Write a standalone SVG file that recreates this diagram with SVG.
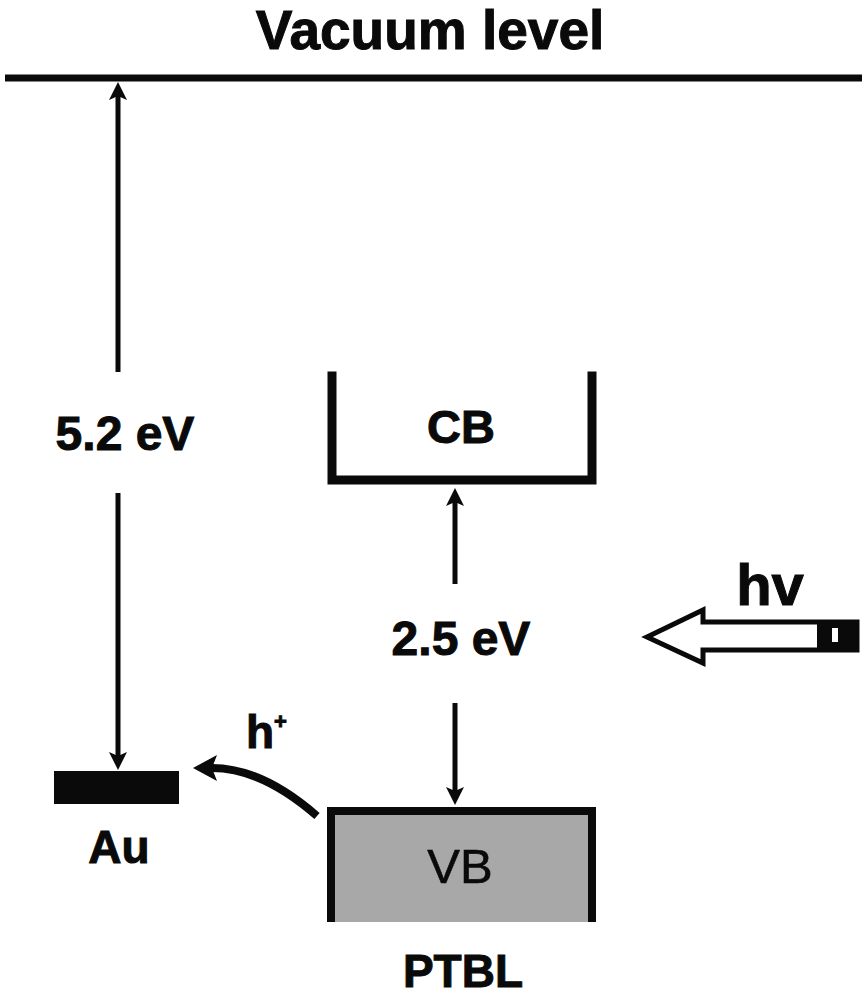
<svg xmlns="http://www.w3.org/2000/svg" width="867" height="1000" viewBox="0 0 867 1000">
<style>
  text { font-family: "Liberation Sans", Arial, sans-serif; fill: #0a0a0a; }
  .b { font-weight: bold; stroke: #0a0a0a; stroke-width: 1; }
  .thin { stroke: #0a0a0a; stroke-width: 5; fill: none; }
  .band { stroke: #0a0a0a; stroke-width: 9; fill: none; stroke-linecap: square; }
</style>
<defs>
  <marker id="ah" markerUnits="userSpaceOnUse" markerWidth="20" markerHeight="20" refX="4" refY="9" orient="auto">
    <path d="M0,0 L18,9 L0,18 L4,9 Z" fill="#0a0a0a"/>
  </marker>
  <marker id="ahc" markerUnits="userSpaceOnUse" markerWidth="28" markerHeight="28" refX="5" refY="13" orient="auto">
    <path d="M0,0 L24,13 L0,26 L5,13 Z" fill="#0a0a0a"/>
  </marker>
</defs>
<rect width="867" height="1000" fill="#ffffff"/>

<g id="vacuum">
  <text class="b" x="430" y="49" font-size="55" text-anchor="middle">Vacuum level</text>
  <line x1="5" y1="78" x2="862" y2="78" stroke="#0a0a0a" stroke-width="7"/>
</g>

<g id="au">
  <rect x="54" y="771" width="125" height="33" fill="#0a0a0a"/>
  <text class="b" x="119" y="863" font-size="46" text-anchor="middle">Au</text>
</g>

<g id="cb">
  <path class="band" d="M332,376 L332,480 L592,480 L592,376"/>
  <text class="b" x="461" y="443" font-size="47" text-anchor="middle">CB</text>
</g>

<g id="vb">
  <rect x="331" y="811" width="262" height="111" fill="#a8a8a8"/>
  <path d="M331,922 L331,811 L592,811 L592,922" stroke="#0a0a0a" stroke-width="8" fill="none"/>
  <text x="460" y="883" font-size="49" text-anchor="middle" stroke="#0a0a0a" stroke-width="0.6">VB</text>
  <text class="b" x="463" y="987" font-size="46" text-anchor="middle">PTBL</text>
</g>

<g id="hv">
  <polygon points="647,637 703,610 703,622 857,622 857,650 703,650 703,663" fill="#ffffff" stroke="#0a0a0a" stroke-width="5" stroke-linejoin="miter"/>
  <rect x="817" y="622" width="40" height="28" fill="#0a0a0a"/>
  <rect x="832" y="628" width="6" height="14" fill="#ffffff"/>
  <text class="b" x="770" y="605" font-size="58" text-anchor="middle">hv</text>
</g>

<g id="connectors">
  <line class="thin" x1="118" y1="372" x2="118" y2="96" marker-end="url(#ah)"/>
  <text class="b" x="125" y="450" font-size="48" text-anchor="middle">5.2 eV</text>
  <line class="thin" x1="118" y1="493" x2="118" y2="756" marker-end="url(#ah)"/>

  <line class="thin" x1="455" y1="584" x2="455" y2="502" marker-end="url(#ah)"/>
  <text class="b" x="461" y="655" font-size="48" text-anchor="middle">2.5 eV</text>
  <line class="thin" x1="455" y1="703" x2="455" y2="791" marker-end="url(#ah)"/>

  <path d="M317,816 Q262,768 212,768" stroke="#0a0a0a" stroke-width="8" fill="none" marker-end="url(#ahc)"/>
  <text class="b" x="246" y="748" font-size="46">h<tspan font-size="22" dy="-19">+</tspan></text>
</g>
</svg>
